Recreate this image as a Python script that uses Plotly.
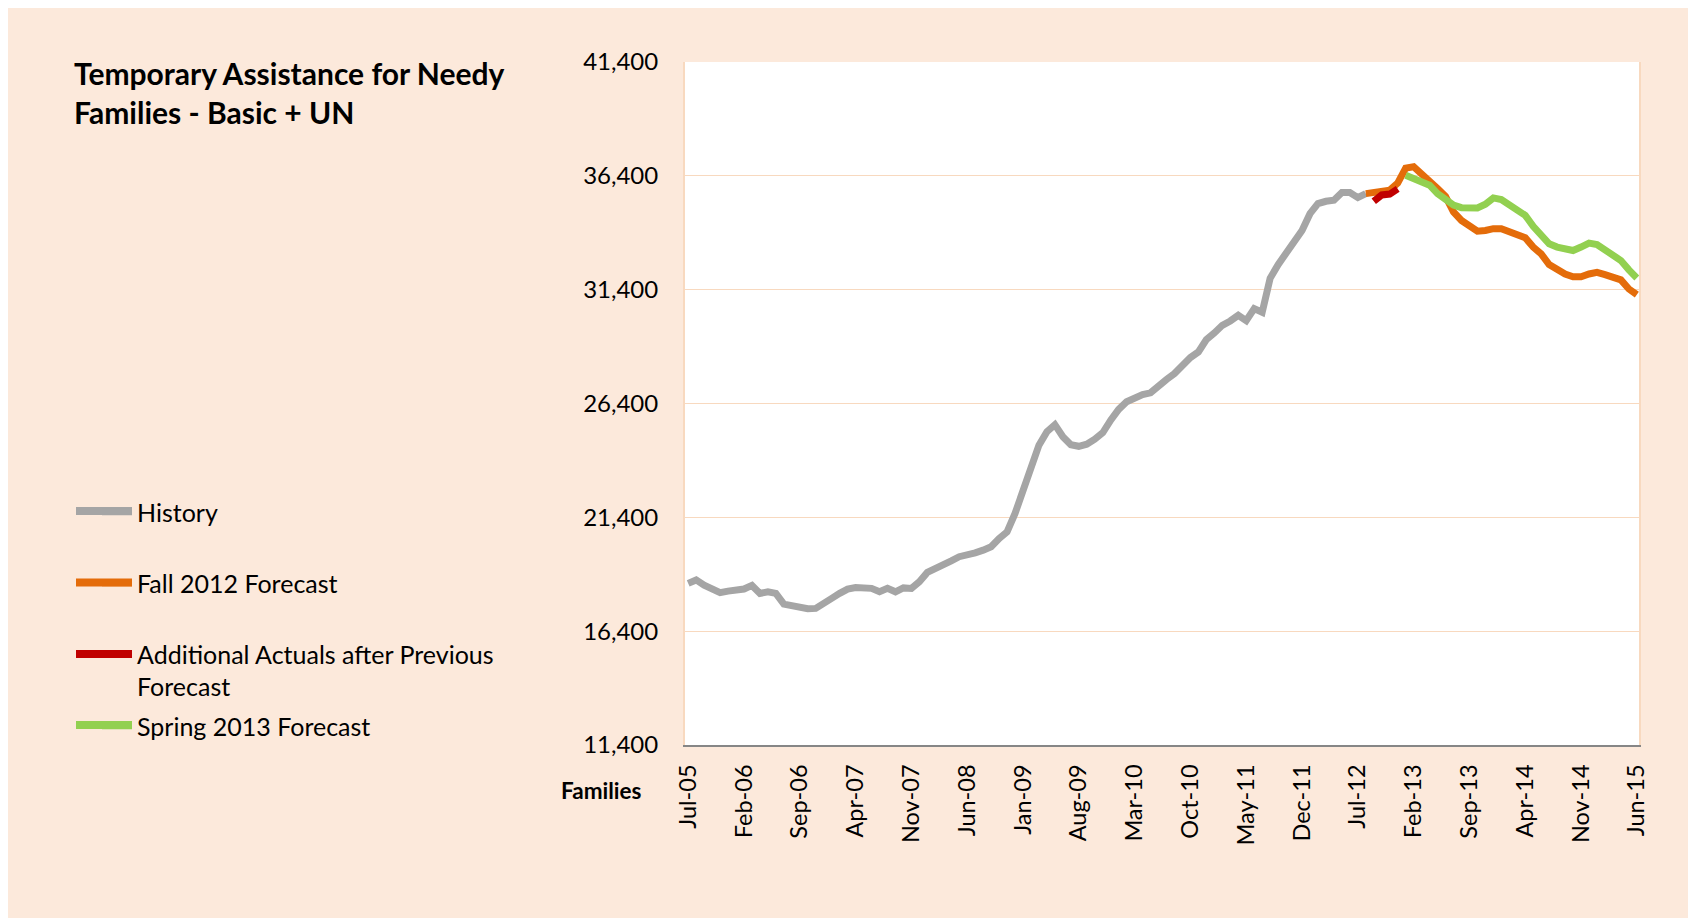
import pandas as pd
import plotly.graph_objects as go

# ---- data ----
months = list(pd.date_range("2005-07-01", periods=120, freq="MS").strftime("%b-%y"))
tick_labels = ["Jul-05", "Feb-06", "Sep-06", "Apr-07", "Nov-07", "Jun-08", "Jan-09", "Aug-09",
               "Mar-10", "Oct-10", "May-11", "Dec-11", "Jul-12", "Feb-13", "Sep-13", "Apr-14",
               "Nov-14", "Jun-15"]
y_ticks = [11400, 16400, 21400, 26400, 31400, 36400, 41400]

history = [18500, 18650, 18420, 18230, 18090, 18160, 18190, 18250, 18410, 18060,
           18130, 18060, 17590, 17510, 17400, 17390, 17400, 17590, 17840, 18060,
           18250, 18320, 18320, 18280, 18130, 18280, 18130, 18300, 18280, 18570,
           18980, 19130, 19270, 19490, 19670, 19740, 19840, 19960, 20110, 20470,
           20760, 21570, 22590, 23550, 24570, 25160, 25470, 24940, 24590, 24520,
           24610, 24830, 25115, 25670, 26140, 26475, 26650, 26795, 26870, 27205,
           27455, 27715, 28080, 28420, 28665, 29205, 29500, 29835, 30025, 30275,
           30040, 30570, 30410, 31900, 32500, 33010, 33490, 34003, 34738, 35180,
           35282, 35326, 35665, 35665, 35444, 35620]
history_months = months[0:86]

fall_2012 = [35620, 35650, 35700, 35770, 36080, 36740, 36800, 36500, 36240, 35840,
             35500, 34810, 34440, 34180, 33970, 34000, 34080, 34080, 33970, 33860,
             33680, 33270, 32970, 32500, 32280, 32090, 31970, 31970, 32090, 32160,
             32060, 31970, 31830, 31430, 31180]
fall_months = months[85:120]

additional = [35280, 35560, 35600, 35830]
additional_months = months[86:90]

spring_2013 = [36430, 36280, 36135, 35990, 35620, 35400, 35110, 35000, 34990, 34990,
               35150, 35430, 35355, 35135, 34885, 34665, 34180, 33780, 33415, 33270,
               33195, 33120, 33270, 33445, 33385, 33150, 32900, 32680, 32270, 31915]
spring_months = months[90:120]

series_colors = ["#A5A5A5", "#E46C0A", "#C00000", "#92D050"]

# ---- styling ----
FONT = "Lato"
PEACH = "#FCE9DB"
GRID = "#F8D9BF"
W, H = 1696, 918
L, R, T, B = 677, 1631, 54, 737
LW = 7

fig = go.Figure()
fig.add_trace(go.Scatter(x=history_months, y=history, mode="lines", name="History",
                         line=dict(color=series_colors[0], width=LW), legend="legend"))
fig.add_trace(go.Scatter(x=fall_months, y=fall_2012, mode="lines", name="Fall 2012 Forecast",
                         line=dict(color=series_colors[1], width=LW), legend="legend2"))
fig.add_trace(go.Scatter(x=additional_months, y=additional, mode="lines",
                         name="Additional Actuals after Previous<br>Forecast",
                         line=dict(color=series_colors[2], width=LW), legend="legend3"))
fig.add_trace(go.Scatter(x=spring_months, y=spring_2013, mode="lines", name="Spring 2013 Forecast",
                         line=dict(color=series_colors[3], width=LW), legend="legend4"))

def leg(ytop, valign="middle"):
    return dict(xref="container", yref="container", x=89 / W, y=1 - ytop / H,
                xanchor="left", yanchor="top", bgcolor="rgba(0,0,0,0)",
                font=dict(family=FONT, size=25, color="#000000"), valign=valign,
                itemclick=False, itemdoubleclick=False)

def px_x(p):
    return (p - L) / (R - L)

def px_y(p):
    return (B - p) / (B - T)

# longer legend keys, as in the original
legend_key_y = [503, 574.5, 646, 717]
key_shapes = [dict(type="line", xref="paper", yref="paper", layer="above",
                   x0=px_x(68), x1=px_x(124), y0=px_y(yk), y1=px_y(yk),
                   line=dict(color=c, width=8))
              for yk, c in zip(legend_key_y, series_colors)]

fig.update_layout(
    width=W, height=H,
    margin=dict(l=L, r=W - R, t=T, b=H - B, pad=0),
    paper_bgcolor=PEACH, plot_bgcolor="#FFFFFF",
    font=dict(family=FONT, size=24, color="#000000"),
    showlegend=True,
    legend=leg(481),
    legend2=leg(552),
    legend3=leg(623, "top"),
    legend4=leg(695),
    xaxis=dict(type="category", categoryorder="array", categoryarray=months,
               range=[-0.4, 119.27], tickmode="array", tickvals=tick_labels, ticktext=tick_labels,
               tickangle=-90, showgrid=False, showline=True, linecolor="#868686", linewidth=2,
               ticks="", ticklabelstandoff=8, tickfont=dict(family=FONT, size=23.5), zeroline=False),
    yaxis=dict(range=[11400, 41400], tickmode="array", tickvals=y_ticks,
               ticktext=[f"{v:,}" for v in y_ticks], showgrid=True, gridcolor=GRID, gridwidth=1,
               showline=True, linecolor=GRID, linewidth=2, mirror=True, ticks="",
               ticklabelstandoff=20, tickfont=dict(family=FONT, size=24), zeroline=False),
    annotations=[
        dict(xref="paper", yref="paper", x=px_x(64), y=px_y(45),
             xanchor="left", yanchor="top", align="left", showarrow=False,
             text="<b>Temporary Assistance for Needy<br>Families - Basic + UN</b>",
             font=dict(family=FONT, size=30, color="#000000")),
        dict(xref="paper", yref="paper", x=px_x(593), y=px_y(782),
             xanchor="center", yanchor="middle", showarrow=False, text="<b>Families</b>",
             font=dict(family=FONT, size=22.5, color="#000000")),
    ],
    shapes=key_shapes,
)

fig.write_html("out.html")
